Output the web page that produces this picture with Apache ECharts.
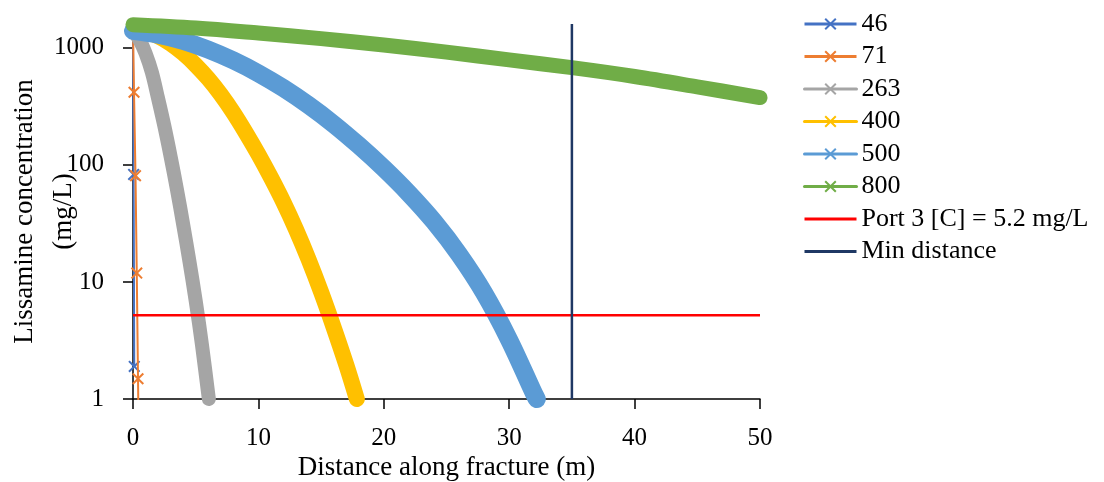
<!DOCTYPE html>
<html>
<head>
<meta charset="utf-8">
<script src="https://cdn.jsdelivr.net/npm/echarts@6/dist/echarts.min.js"></script>
<style>
  html, body { margin: 0; padding: 0; background: #ffffff; }
  #chart { width: 1104px; height: 482px; }
</style>
</head>
<body>
<div id="chart"></div>
<script>
// Lissamine concentration profiles along the fracture (distance in m, concentration in mg/L)
const dist46 = [0, 0.05, 0.1];
const conc46 = [1400, 83, 1.9];

const dist71 = [0, 0.08, 0.2, 0.3, 0.4, 0.5];
const conc71 = [1400, 418, 81, 11.9, 1.49, 0.16];

const dist263 = [0, 0.5, 1, 1.5, 2, 2.5, 3, 3.5, 4, 4.5, 5, 5.5, 6, 6.05];
const conc263 = [1400, 1180, 900, 620, 370, 215, 118, 62, 31, 15, 6.9, 2.9, 1.1, 1.0];

const dist400 = [0, 1, 2, 3, 4, 5, 6, 7, 8, 9, 10, 11, 12, 13, 14, 15, 16, 17, 17.85];
const conc400 = [1400, 1371, 1259, 1089, 900, 714, 546, 400, 280, 188, 123, 78, 48, 28.1, 15.6, 8.2, 4.1, 1.97, 1.0];

const dist500 = [0, 2, 4, 6, 8, 10, 12, 14, 16, 18, 20, 22, 24, 26, 28, 30, 32, 32.2];
const conc500 = [1400, 1300, 1150, 968, 782, 607, 453, 324, 223, 147, 93.5, 57, 32.8, 17.2, 8.05, 3.2, 1.1, 1.0];

const dist800 = [0, 5, 10, 15, 20, 25, 30, 35, 40, 45, 50];
const conc800 = [1580, 1480, 1340, 1200, 1060, 920, 790, 678, 570, 465, 376];

// Reference lines
const portDist = [0, 50];
const portConc = [5.2, 5.2];
const minDist = [35, 35];
const minConc = [1, 1600];

const seriesNames = ['46', '71', '263', '400', '500', '800', 'Port 3 [C] = 5.2 mg/L', 'Min distance'];
const yTicks = [1, 10, 100, 1000];
const xTicks = [0, 10, 20, 30, 40, 50];

const colors = ['#4472C4', '#ED7D31', '#A5A5A5', '#FFC000', '#5B9BD5', '#70AD47', '#FF0000', '#1F3864'];

const pairs = (xs, ys) => xs.map((x, i) => [x, ys[i]]);

// thin "x" marker
const crossMark = 'path://M0,1.4 L1.4,0 L6,4.6 L10.6,0 L12,1.4 L7.4,6 L12,10.6 L10.6,12 L6,7.4 L1.4,12 L0,10.6 L4.6,6 Z';
const barIcon = 'path://M0,0 L52,0 L52,3 L0,3 Z';

const serif = 'Liberation Serif';

function thinSeries(i, xs, ys) {
  return {
    name: seriesNames[i], type: 'line', data: pairs(xs, ys),
    color: colors[i], symbol: crossMark, symbolSize: 12, showSymbol: true,
    lineStyle: { width: 2, color: colors[i] },
    itemStyle: { color: colors[i] },
    clip: true, z: 2 + i
  };
}
function bandSeries(i, xs, ys, w) {
  return {
    name: seriesNames[i], type: 'line', data: pairs(xs, ys),
    color: colors[i], symbol: crossMark, symbolSize: 12, showSymbol: false,
    smooth: 0.35,
    lineStyle: { width: w, color: colors[i], cap: 'round', join: 'round' },
    itemStyle: { color: colors[i] },
    clip: false, z: 2 + i
  };
}

const chart = echarts.init(document.getElementById('chart'), null, { renderer: 'canvas' });
chart.setOption({
  animation: false,
  backgroundColor: '#ffffff',
  grid: { left: 133, right: 344, top: 24, bottom: 83, containLabel: false, outerBoundsMode: 'none' },
  legend: {
    orient: 'vertical', left: 803, top: 11, padding: 0,
    itemWidth: 52, itemHeight: 15, itemGap: 6.5,
    lineStyle: { width: 3 },
    textStyle: { fontFamily: serif, fontSize: 26, color: '#000000', lineHeight: 26 },
    data: [
      { name: seriesNames[0] }, { name: seriesNames[1] }, { name: seriesNames[2] },
      { name: seriesNames[3] }, { name: seriesNames[4] }, { name: seriesNames[5] },
      { name: seriesNames[6], icon: barIcon },
      { name: seriesNames[7], icon: barIcon }
    ]
  },
  xAxis: {
    type: 'value', min: xTicks[0], max: xTicks[xTicks.length - 1], interval: 10,
    name: 'Distance along fracture (m)', nameLocation: 'middle', nameGap: 55, nameMoveOverlap: false,
    nameTextStyle: { fontFamily: serif, fontSize: 27, color: '#000000' },
    axisLine: { show: true, onZero: false, lineStyle: { color: '#000000', width: 1.5 } },
    axisTick: { show: true, inside: false, length: 10, lineStyle: { color: '#000000', width: 1.5 } },
    axisLabel: { margin: 27, fontFamily: serif, fontSize: 25, color: '#000000', formatter: v => String(v) },
    splitLine: { show: false }
  },
  yAxis: {
    type: 'log', logBase: 10, min: 1, max: 1600,
    name: 'Lissamine concentration\n(mg/L)', nameLocation: 'middle', nameGap: 50, nameRotate: 90, nameMoveOverlap: false,
    nameTextStyle: { fontFamily: serif, fontSize: 27, color: '#000000', lineHeight: 39 },
    axisLine: { show: true, lineStyle: { color: '#000000', width: 1.5 } },
    axisTick: { show: true, inside: false, length: 10, customValues: yTicks, lineStyle: { color: '#000000', width: 1.5 } },
    axisLabel: { margin: 29, customValues: yTicks, fontFamily: serif, fontSize: 25, color: '#000000', formatter: v => String(Math.round(v)) },
    splitLine: { show: false },
    minorTick: { show: false }
  },
  series: [
    thinSeries(0, dist46, conc46),
    thinSeries(1, dist71, conc71),
    bandSeries(2, dist263, conc263, 14),
    bandSeries(3, dist400, conc400, 16),
    bandSeries(4, dist500, conc500, 18),
    bandSeries(5, dist800, conc800, 15),
    {
      name: seriesNames[6], type: 'line', data: pairs(portDist, portConc),
      color: colors[6], symbol: 'none', lineStyle: { width: 2.5, color: colors[6] },
      itemStyle: { color: colors[6] }, z: 10
    },
    {
      name: seriesNames[7], type: 'line', data: pairs(minDist, minConc),
      color: colors[7], symbol: 'none', lineStyle: { width: 2.5, color: colors[7] },
      itemStyle: { color: colors[7] }, z: 11
    }
  ]
});
</script>
</body>
</html>
